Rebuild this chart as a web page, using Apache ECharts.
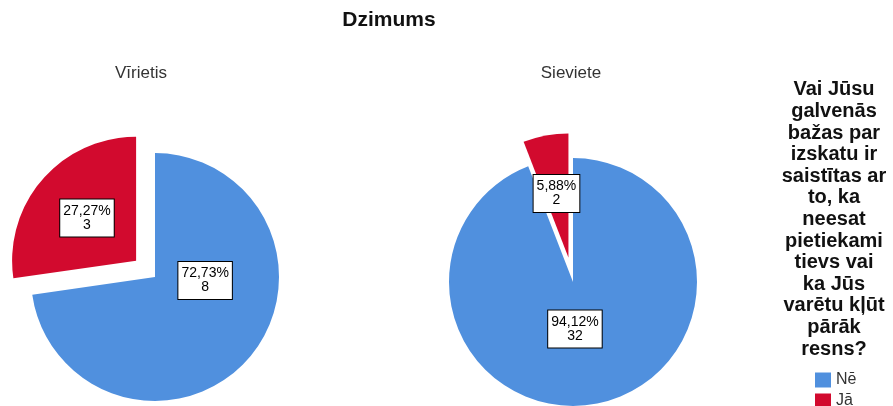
<!DOCTYPE html>
<html>
<head>
<meta charset="utf-8">
<script src="https://cdn.jsdelivr.net/npm/echarts@6/dist/echarts.min.js"></script>
<style>
  html, body { margin: 0; padding: 0; background: #ffffff; }
  #chart { width: 893px; height: 406px; }
</style>
</head>
<body>
<div id="chart"></div>
<script>
// Answer categories (legend order) and the two gender groups
const categories = ['Nē', 'Jā'];
const groups = ['Vīrietis', 'Sieviete'];

// Counts per answer, for each group
const maleCounts = [8, 3];
const femaleCounts = [32, 2];

const chartTitle = 'Dzimums';
const legendTitle = 'Vai Jūsu\ngalvenās\nbažas par\nizskatu ir\nsaistītas ar\nto, ka\nneesat\npietiekami\ntievs vai\nka Jūs\nvarētu kļūt\npārāk\nresns?';

const colors = ['#5090DE', '#D20A2E'];
const FONT = '"Liberation Sans", Arial, sans-serif';

// Label nudges (px) relative to the default inside position of each slice
const labelNudges = [
  [[1, -39], [2, 0]],
  [[-10, -17], [-4, -20]]
];

function fmtLabel(p) {
  return p.percent.toFixed(2).replace('.', ',') + '%\n' + p.value;
}

function buildSeries(name, counts, center, nudges) {
  return {
    type: 'pie',
    name: name,
    center: center,
    radius: 124,
    startAngle: 90,
    clockwise: true,
    selectedMode: 'multiple',
    selectedOffset: 25,
    avoidLabelOverlap: false,
    silent: true,
    itemStyle: { borderWidth: 0 },
    label: {
      show: true,
      position: 'inside',
      formatter: fmtLabel,
      fontFamily: FONT,
      fontSize: 14,
      lineHeight: 14,
      color: '#000',
      backgroundColor: '#fff',
      borderColor: '#000',
      borderWidth: 1,
      padding: [5, 3, 4, 3],
      align: 'center'
    },
    labelLine: { show: false },
    emphasis: { disabled: true },
    data: categories.map((c, i) => ({
      name: c,
      value: counts[i],
      selected: i === 1,
      itemStyle: { color: colors[i] },
      label: { offset: nudges[i] }
    }))
  };
}

const chart = echarts.init(document.getElementById('chart'), null, { renderer: 'canvas' });

chart.setOption({
  animation: false,
  backgroundColor: '#ffffff',
  title: [
    {
      text: chartTitle, left: 389, top: 10, textAlign: 'center', padding: 0,
      textStyle: { fontFamily: FONT, fontSize: 21, fontWeight: 'bold', color: '#111' }
    },
    {
      text: groups[0], left: 141, top: 65, textAlign: 'center', padding: 0,
      textStyle: { fontFamily: FONT, fontSize: 17, fontWeight: 'normal', color: '#333' }
    },
    {
      text: groups[1], left: 571, top: 65, textAlign: 'center', padding: 0,
      textStyle: { fontFamily: FONT, fontSize: 17, fontWeight: 'normal', color: '#333' }
    },
    {
      text: legendTitle, left: 834, top: 79, textAlign: 'center', padding: 0,
      textStyle: { fontFamily: FONT, fontSize: 20, fontWeight: 'bold', lineHeight: 21.6, color: '#111', align: 'center' }
    }
  ],
  legend: {
    orient: 'vertical',
    left: 815,
    top: 372,
    height: 60,
    padding: 0,
    itemWidth: 16,
    itemHeight: 15,
    itemGap: 5,
    icon: 'rect',
    selectedMode: false,
    data: categories,
    textStyle: { fontFamily: FONT, fontSize: 16, lineHeight: 15, color: '#333' }
  },
  series: [
    buildSeries(groups[0], maleCounts, [155, 277], labelNudges[0]),
    buildSeries(groups[1], femaleCounts, [573, 282], labelNudges[1])
  ]
});
</script>
</body>
</html>
